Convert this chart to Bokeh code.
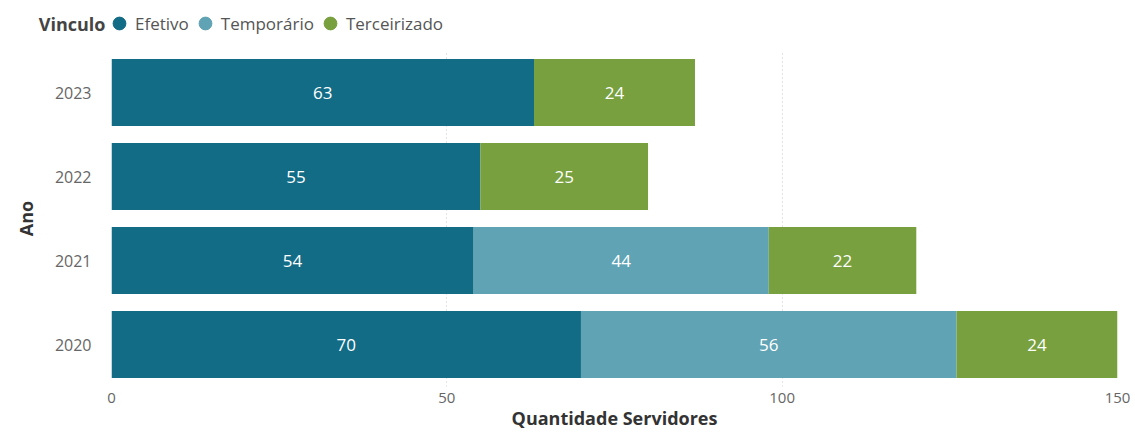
from bokeh.plotting import figure
from bokeh.layouts import column
from bokeh.models import ColumnDataSource, FactorRange, Range1d, Legend, LegendItem, FixedTicker
from bokeh.core.properties import value
from bokeh.embed import file_html
from bokeh.resources import INLINE

anos = ["2020", "2021", "2022", "2023"]
efetivo = [70, 54, 55, 63]
temporario = [56, 44, 0, 0]
terceirizado = [24, 22, 25, 24]
series = ["Efetivo", "Temporário", "Terceirizado"]
colors = ["#136C86", "#5FA3B4", "#78A03E"]
x_ticks = [0, 50, 100, 150]

FONT = "Open Sans"
TOP_H = 46

source = ColumnDataSource(dict(ano=anos, Efetivo=efetivo, Temporário=temporario, Terceirizado=terceirizado))

p = figure(width=1135, height=432 - TOP_H, output_backend="svg", toolbar_location=None,
           y_range=FactorRange(factors=anos, range_padding=0),
           x_range=Range1d(0, 150),
           min_border_left=111, min_border_right=18, min_border_top=50 - TOP_H, min_border_bottom=46)
p.outline_line_color = None

renderers = p.hbar_stack(series, y="ano", height=0.8, color=colors, line_color=None, source=source)

# value labels
lx, ly, lt = [], [], []
for i, a in enumerate(anos):
    left = 0
    for vals in (efetivo, temporario, terceirizado):
        v = vals[i]
        if v > 0:
            lx.append(left + v / 2)
            ly.append(a)
            lt.append(str(v))
        left += v
p.text(x=lx, y=ly, text=lt, text_align="center", text_baseline="middle",
       text_color="white", text_font=value(FONT), text_font_size="17px")

# axes
p.xaxis.ticker = FixedTicker(ticks=x_ticks)
p.xaxis.axis_line_color = None
p.xaxis.major_tick_line_color = None
p.xaxis.minor_tick_line_color = None
p.xaxis.major_label_text_font = FONT
p.xaxis.major_label_text_font_size = "15px"
p.xaxis.major_label_text_color = "#666666"
p.xaxis.major_label_standoff = 0
p.xaxis.axis_label = "Quantidade Servidores"
p.xaxis.axis_label_text_font = FONT
p.xaxis.axis_label_text_font_size = "18px"
p.xaxis.axis_label_text_font_style = "bold"
p.xaxis.axis_label_text_color = "#333333"
p.xaxis.axis_label_standoff = 0

p.yaxis.axis_line_color = None
p.yaxis.major_tick_line_color = None
p.yaxis.minor_tick_line_color = None
p.yaxis.major_label_text_font = FONT
p.yaxis.major_label_text_font_size = "16px"
p.yaxis.major_label_text_color = "#666666"
p.yaxis.major_label_standoff = 14
p.yaxis.axis_label = "Ano"
p.yaxis.axis_label_text_font = FONT
p.yaxis.axis_label_text_font_size = "18px"
p.yaxis.axis_label_text_font_style = "bold"
p.yaxis.axis_label_text_color = "#333333"
p.yaxis.axis_label_standoff = 14

p.ygrid.grid_line_color = None
p.xgrid.grid_line_color = "#c8c8c8"
p.xgrid.grid_line_dash = "1 3"
p.xgrid.grid_line_width = 1

# legend strip above the chart: "Vinculo" is the strip's own (horizontal) y-axis label
top = figure(width=1135, height=TOP_H, output_backend="svg", toolbar_location=None,
             x_range=Range1d(0, 1), y_range=Range1d(0, 1), x_axis_type=None,
             min_border_left=111, min_border_right=18, min_border_top=0, min_border_bottom=0)
top.outline_line_color = None
top.xgrid.grid_line_color = None
top.ygrid.grid_line_color = None
top.yaxis.ticker = FixedTicker(ticks=[])
top.yaxis.axis_line_color = None
top.yaxis.major_tick_line_color = None
top.yaxis.minor_tick_line_color = None
top.yaxis.major_label_standoff = 0
top.yaxis.axis_label = "Vinculo"
top.yaxis.axis_label_orientation = "horizontal"
top.yaxis.axis_label_standoff = 6
top.yaxis.axis_label_text_font = FONT
top.yaxis.axis_label_text_font_size = "18px"
top.yaxis.axis_label_text_font_style = "bold"
top.yaxis.axis_label_text_color = "#444444"

# legend proxies (no visible data point; only their legend circles are drawn)
items = []
for s, c in zip(series, colors):
    r = top.scatter(x=[float("nan")], y=[float("nan")], marker="circle", size=13, color=c)
    items.append(LegendItem(label=s, renderers=[r]))
legend = Legend(items=items, orientation="horizontal", location=(-8, 7))
legend.label_text_font = FONT
legend.label_text_font_size = "17px"
legend.label_text_color = "#555555"
legend.label_standoff = 0
legend.glyph_width = 32
legend.glyph_height = 32
legend.spacing = 0
legend.padding = 0
legend.margin = 0
legend.border_line_color = None
legend.background_fill_alpha = 0
top.add_layout(legend, "center")

layout = column(top, p, spacing=0)
open("out.html", "w").write(file_html(layout, INLINE))
